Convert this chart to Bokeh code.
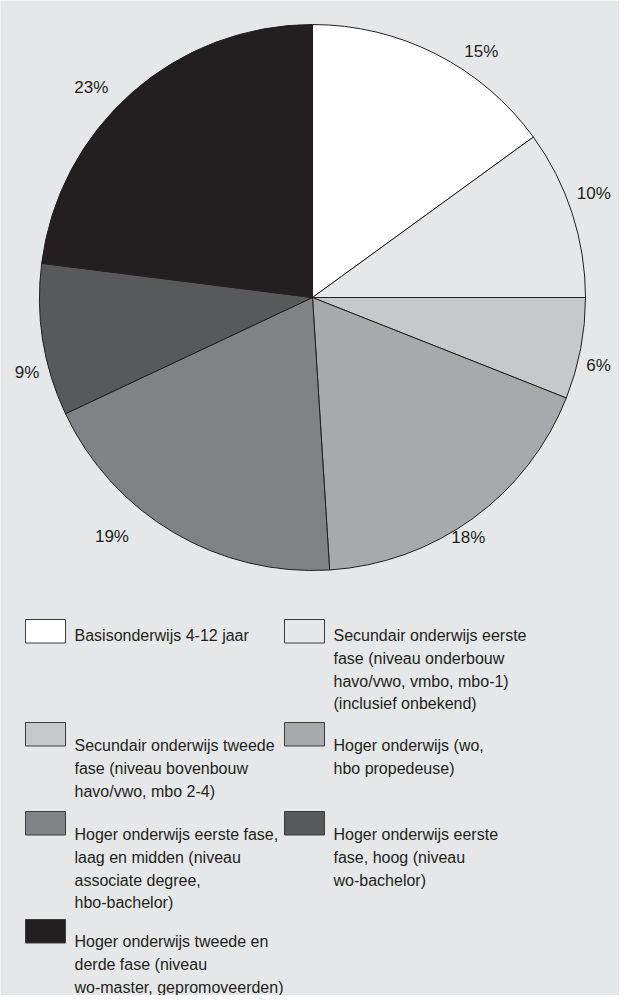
import math
from bokeh.plotting import figure
from bokeh.models import Range1d
from bokeh.core.properties import value
from bokeh.embed import file_html
from bokeh.resources import INLINE

# ---------------- data ----------------
categories = [
    "Basisonderwijs 4-12 jaar",
    "Secundair onderwijs eerste\nfase (niveau onderbouw\nhavo/vwo, vmbo, mbo-1)\n(inclusief onbekend)",
    "Secundair onderwijs tweede\nfase (niveau bovenbouw\nhavo/vwo, mbo 2-4)",
    "Hoger onderwijs (wo,\nhbo propedeuse)",
    "Hoger onderwijs eerste fase,\nlaag en midden (niveau\nassociate degree,\nhbo-bachelor)",
    "Hoger onderwijs eerste\nfase, hoog (niveau\nwo-bachelor)",
    "Hoger onderwijs tweede en\nderde fase (niveau\nwo-master, gepromoveerden)",
]
shares = [15, 10, 6, 18, 19, 9, 23]
pct_labels = [f"{v}%" for v in shares]

# ---------------- style / layout ----------------
colors = ["#ffffff", "#e6e7e8", "#c7c8ca", "#a7a9ac", "#808285", "#58595b", "#231f20"]
BG = "#e6e7e8"
INK = "#231f20"
FONT = "Liberation Sans"

W, H = 619, 995          # figure size (page x 8..627, y 8..1003)
CX, CY, R = 320, 305, 273  # pie centre / radius in page pixels
label_radius = [298, 300, 294, 286, 312, 295, 305]
label_shift_deg = [7.5, -2.3, 2.5, 3.0, 9.4, -5.7, -5.1]

sw_x = [33, 292]          # swatch left per column
txt_x = [82, 341]         # text left per column
row_top = [627, 730, 819, 927]
row_base = [643, 753, 842, 949]
SW_W, SW_H = 40, 23.5
LINE_H = 22.8

p = figure(width=W, height=H, output_backend="svg", toolbar_location=None,
           x_axis_type=None, y_axis_type=None, min_border=0,
           x_range=Range1d(8, 8 + W), y_range=Range1d(-(8 + H), -8))
p.background_fill_color = BG
p.border_fill_color = BG
p.outline_line_color = None
p.grid.visible = False

# ---------------- pie ----------------
total = sum(shares)
cum = [0]
for v in shares:
    cum.append(cum[-1] + v)
start_a = [math.pi / 2 - 2 * math.pi * cum[i + 1] / total for i in range(len(shares))]
end_a = [math.pi / 2 - 2 * math.pi * cum[i] / total for i in range(len(shares))]
p.wedge(x=[CX] * len(shares), y=[-CY] * len(shares), radius=R,
        start_angle=start_a, end_angle=end_a,
        fill_color=colors, line_color=INK, line_width=1)

lx, ly = [], []
for i in range(len(shares)):
    mid = (cum[i] + cum[i + 1]) / 2 / total * 360 + label_shift_deg[i]
    t = math.radians(mid)
    lx.append(CX + label_radius[i] * math.sin(t))
    ly.append(-CY + label_radius[i] * math.cos(t))
p.text(x=lx, y=ly, text=pct_labels, text_font=value(FONT), text_font_size="17px",
       text_color=INK, text_align="center", text_baseline="middle")

# ---------------- legend ----------------
ql, qr, qt, qb = [], [], [], []
tx, ty, tt = [], [], []
for i, cat in enumerate(categories):
    row, col = divmod(i, 2)
    ql.append(sw_x[col]); qr.append(sw_x[col] + SW_W)
    qt.append(-row_top[row]); qb.append(-(row_top[row] + SW_H))
    for j, line in enumerate(cat.split("\n")):
        tx.append(txt_x[col])
        ty.append(-(row_base[row] + j * LINE_H))
        tt.append(line)
p.quad(left=ql, right=qr, top=qt, bottom=qb, fill_color=colors,
       line_color="#3c3c3e", line_width=1)
p.text(x=tx, y=ty, text=tt, text_font=value(FONT), text_font_size="16px",
       text_color=INK, text_align="left", text_baseline="alphabetic")

open("out.html", "w").write(file_html(p, INLINE))
